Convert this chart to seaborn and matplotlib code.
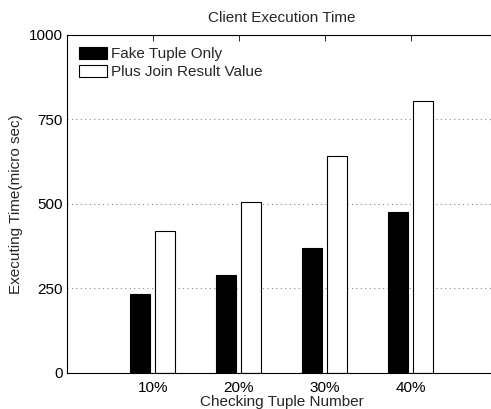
import matplotlib
matplotlib.use('Agg')
import matplotlib.pyplot as plt
import seaborn as sns
import pandas as pd

categorias = ['10%', '20%', '30%', '40%']
fake_tuple = [233, 290, 370, 477]
join_result = [420, 504, 640, 805]
series = ['Fake Tuple Only', 'Plus Join Result Value']

dados = pd.DataFrame({
    'categoria': categorias * 2,
    'tempo': fake_tuple + join_result,
    'serie': [series[0]] * 4 + [series[1]] * 4,
})

sns.set_style('white')
plt.rcParams['font.family'] = ['Liberation Sans', 'DejaVu Sans']

fig = plt.figure(figsize=(4.91, 4.09), dpi=100)
ax = fig.add_axes([66.7 / 491, 36 / 409, 430 / 491, 338.5 / 409])

sns.barplot(data=dados, x='categoria', y='tempo', hue='serie',
            palette=['black', 'white'], width=0.58, gap=0.2,
            edgecolor='black', linewidth=0.8, ax=ax, legend=True)

ax.set_xlim(-1, 4)
ax.set_ylim(0, 1000)
ax.set_yticks([0, 250, 500, 750, 1000])
ax.yaxis.grid(True, linestyle=(0, (1, 3)), color='#888888', linewidth=0.8)
ax.set_axisbelow(True)
for s in ax.spines.values():
    s.set_color('black')
    s.set_linewidth(0.8)
# o lado direito fica fora da imagem no original
ax.spines['right'].set_visible(False)
ax.tick_params(direction='in', length=4, width=0.6, top=True, right=False,
               labelsize=11, colors='black', pad=3)
ax.tick_params(axis='x', pad=6)

ax.set_title('Client Execution Time', fontsize=11, pad=9)
ax.set_xlabel('Checking Tuple Number', fontsize=11, labelpad=0)
ax.set_ylabel('Executing Time(micro sec)', fontsize=11, labelpad=4)

ax.legend(loc='upper left', frameon=False, fontsize=11, handlelength=1.85,
          handleheight=0.85, handletextpad=0.25, labelspacing=0.25,
          borderaxespad=0.5, borderpad=0.3)

plt.savefig('out.png', dpi=100)
